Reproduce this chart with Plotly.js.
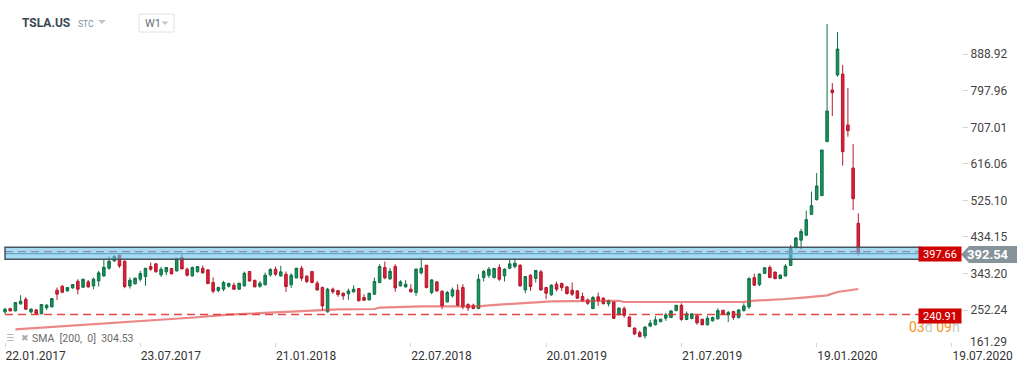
<!DOCTYPE html>
<html>
<head>
<meta charset="utf-8">
<script src="https://cdn.plot.ly/plotly-3.0.1.min.js"></script>
<style>
html,body{margin:0;padding:0;background:#fff;}
#chart{width:1029px;height:371px;}
</style>
</head>
<body>
<div id="chart"></div>
<script>
// ---- data (weekly TSLA.US candles) ----
const startWeek = '2017-01-22';
const openP = [247.6,255.7,250.0,267.5,279.0,247.6,252.5,242.6,257.5,260.0,
301.5,311.5,299.8,307.3,324.0,309.0,322.3,312.3,324.7,337.2,
356.3,374.5,388.7,373.7,312.3,317.3,328.9,335.5,360.4,367.1,
339.7,347.2,355.5,349.6,382.9,353.8,337.2,347.9,356.3,352.1,
320.6,300.7,304.0,311.5,314.0,304.0,312.3,348.0,326.4,311.5,
314.8,339.7,353.8,337.2,341.3,314.8,332.2,356.3,336.4,348.0,
318.9,308.1,247.6,304.0,300.7,294.0,292.4,297.4,305.6,283.3,
277.4,291.6,320.6,358.0,329.7,360.4,312.3,309.8,304.0,295.7,
344.7,363.8,295.7,322.3,299.0,272.5,287.4,301.5,308.1,265.8,
264.2,255.9,333.0,338.9,333.0,358.0,337.2,356.3,360.4,363.8,
302.3,338.9,330.6,347.2,308.1,289.9,316.4,318.1,309.8,301.5,
299.8,285.8,277.4,255.9,285.0,282.0,267.5,272.0,241.0,255.5,
235.0,207.3,196.0,187.6,212.2,215.5,222.9,231.9,233.6,250.8,
263.9,228.6,231.0,237.7,229.5,215.5,225.3,230.2,251.6,240.1,
248.3,233.6,250.8,259.8,332.9,315.6,343.5,358.3,346.8,330.4,
337.0,363.2,409.0,426.0,438.4,490.4,527.0,536.9,671.4,800.0,
837.4,839.8,712.9,605.8,468.0];
const highP = [257.5,257.5,271.8,289.1,284.0,256.7,254.0,266.6,267.5,282.0,
308.2,314.0,309.0,317.0,328.9,330.0,327.0,333.0,349.6,378.7,
385.3,388.7,390.3,375.4,333.0,333.0,349.6,356.3,370.4,369.0,
359.6,359.6,357.0,381.0,391.1,358.0,360.4,361.5,362.9,353.8,
333.0,310.6,324.7,320.6,320.6,320.0,348.0,349.6,327.0,324.7,
345.5,356.3,360.4,362.1,348.0,343.8,357.0,362.1,338.9,349.0,
324.7,310.6,307.3,308.1,301.0,295.7,305.6,313.9,306.0,291.6,
295.0,333.0,366.2,372.9,357.1,366.2,326.4,326.4,316.4,356.3,
382.9,364.0,328.9,323.0,301.5,299.8,308.1,316.4,316.4,269.1,
268.0,341.3,352.1,359.6,357.0,366.2,356.3,378.7,381.2,366.2,
337.2,341.3,352.1,352.1,309.8,316.4,323.1,320.6,312.3,320.6,
301.0,295.7,280.8,287.4,295.7,283.0,278.0,273.0,258.5,261.5,
236.0,208.5,200.7,212.2,227.8,236.8,230.0,245.0,251.5,265.0,
268.8,248.3,244.0,240.9,230.0,237.7,236.0,256.5,252.5,250.0,
250.0,254.0,268.8,333.7,342.7,343.5,358.0,363.2,347.5,340.0,
366.5,414.1,434.0,454.5,499.5,547.0,593.3,651.0,964.3,817.4,
944.4,862.3,805.0,665.5,493.0];
const lowP = [242.6,248.4,249.0,265.8,252.5,243.4,241.8,242.0,252.5,259.0,
277.4,294.0,298.0,305.0,291.6,307.0,308.0,304.0,310.6,334.7,
352.1,372.1,357.1,306.5,305.6,316.0,323.1,312.3,349.6,346.0,
334.7,338.9,341.0,348.0,353.8,335.5,335.5,345.0,343.0,316.4,
294.0,296.5,299.0,308.1,302.3,302.0,310.6,323.0,309.0,307.3,
314.0,335.5,337.2,335.5,297.4,307.3,331.0,324.7,319.0,319.0,
299.8,250.0,245.9,292.4,285.0,277.4,277.4,295.7,274.0,275.0,
276.0,289.9,319.0,328.9,327.2,297.4,310.6,308.1,295.7,287.4,
340.5,306.0,291.6,298.0,254.2,270.8,283.3,260.8,254.2,250.0,
254.2,254.2,323.1,332.2,331.0,324.7,323.1,353.8,356.3,310.6,
294.0,299.8,320.6,299.8,279.1,287.4,298.2,299.8,290.7,287.4,
280.0,272.5,265.0,254.2,262.5,266.0,261.0,230.0,238.0,233.5,
210.0,190.5,184.3,181.0,209.7,213.8,222.0,225.3,232.0,249.0,
225.3,227.0,229.0,215.5,214.0,213.8,223.5,228.6,240.0,222.1,
227.8,231.0,248.3,254.9,312.3,311.5,342.0,332.0,329.0,329.0,
335.3,361.6,405.0,403.0,438.0,489.0,525.0,536.0,671.0,735.3,
833.2,611.6,683.8,501.2,388.0];
const closeP = [254.2,250.0,270.8,274.1,254.2,254.2,243.4,265.8,264.2,280.8,
291.6,296.5,308.2,315.6,304.0,328.9,309.8,328.9,344.7,358.8,
373.7,385.3,362.1,310.6,326.4,331.4,343.0,356.3,353.8,347.2,
353.8,358.0,342.2,380.4,354.6,338.9,358.0,360.4,344.7,318.1,
299.0,308.1,320.6,318.1,304.0,319.0,343.8,324.7,309.8,318.9,
338.9,353.0,341.3,347.2,310.6,338.9,356.3,331.4,323.1,320.6,
302.3,262.5,304.0,297.4,290.7,287.4,299.8,304.0,275.0,276.6,
294.0,323.1,360.4,332.2,348.8,307.3,322.3,316.4,297.4,353.8,
356.3,308.1,327.2,299.8,262.5,295.7,302.3,264.2,260.0,257.5,
255.9,328.9,348.0,353.8,355.5,328.9,353.8,367.1,368.7,312.3,
335.5,310.6,350.5,302.3,294.0,314.0,304.0,308.1,293.2,291.6,
281.6,275.0,269.1,283.3,275.0,268.0,276.0,231.5,257.0,239.0,
211.0,192.5,185.9,209.7,219.6,227.8,229.5,240.1,250.0,263.9,
228.6,242.6,242.6,220.4,215.5,231.9,233.6,250.8,241.7,245.9,
233.6,252.4,262.3,330.4,314.0,341.9,357.5,332.9,330.4,339.4,
361.6,406.7,431.5,448.0,477.2,512.0,560.9,650.6,747.7,793.4,
902.1,646.4,698.7,529.4,392.54];

// SMA(200) read at selected weeks (week index, value)
const smaWeek  = [2, 18, 37, 43, 53, 64, 71, 72, 80, 91, 93, 101, 105, 114, 118, 119, 131, 142, 144, 148, 150, 154, 158, 160, 164];
const smaValue = [204.2, 217.6, 234.2, 240.9, 247.3, 254.0, 254.7, 258.0, 261.4, 261.4, 263.9, 270.4, 273.9, 275.0, 275.0, 272.2, 272.5, 272.2, 275.4, 277.1, 279.6, 283.9, 288.8, 297.1, 304.53];

const yTicks = [252.24, 343.20, 434.15, 525.10, 616.06, 707.01, 797.96, 888.92];
const yBottomLabel = 161.29;
const xTickDates = ['2017-01-22','2017-07-23','2018-01-21','2018-07-22','2019-01-20','2019-07-21','2020-01-19','2020-07-19'];
const xTickText  = ['22.01.2017','23.07.2017','21.01.2018','22.07.2018','20.01.2019','21.07.2019','19.01.2020','19.07.2020'];

const zoneLow = 378.5, zoneHigh = 408.4;
const resistLevel = 397.66;
const lastPrice = 392.54;
const supportLevel = 240.91;
const smaLabel = 'SMA  [200,  0]  304.53';

// ---- build ----
function weekDate(i){
  const d = new Date(startWeek + 'T00:00:00Z');
  d.setUTCDate(d.getUTCDate() + 7*i);
  return d.toISOString().slice(0,10);
}
const dates = openP.map((_, i) => weekDate(i));
const smaDates = smaWeek.map(weekDate);

const PW = 962, PH = 347;
const X = px => px / PW;
const Y = py => 1 - py / PH;

const candles = {
  type: 'candlestick',
  x: dates, open: openP, high: highP, low: lowP, close: closeP,
  increasing: {line: {color: '#0e7046', width: 1}, fillcolor: '#17935d'},
  decreasing: {line: {color: '#b3192c', width: 1}, fillcolor: '#de2039'},
  whiskerwidth: 0,
  hoverinfo: 'skip',
  showlegend: false
};
const sma = {
  type: 'scatter', mode: 'lines',
  x: smaDates, y: smaValue,
  line: {color: 'rgba(222,62,62,0.62)', width: 2.2},
  hoverinfo: 'skip', showlegend: false
};

const font = 'Roboto, "Open Sans", sans-serif';

const shapes = [
  // support dashed
  {type:'line', xref:'paper', yref:'y', x0:X(5), x1:X(919), y0:supportLevel, y1:supportLevel,
   line:{color:'rgba(226,40,40,0.85)', width:1.6, dash:'8px,5px'}, layer:'above'},
  // resistance dashed & last price line (under zone)
  {type:'line', xref:'paper', yref:'y', x0:X(5), x1:X(919), y0:resistLevel, y1:resistLevel,
   line:{color:'#c83c4a', width:1.4, dash:'8px,5px'}, layer:'above'},
  {type:'line', xref:'paper', yref:'y', x0:X(5), x1:X(919), y0:lastPrice, y1:lastPrice,
   line:{color:'#5d8299', width:1.2}, layer:'above'},
  // zone rectangle
  {type:'rect', xref:'paper', yref:'y', x0:X(5), x1:X(920), y0:zoneLow, y1:zoneHigh,
   fillcolor:'rgba(107,192,233,0.6)', line:{color:'#48555f', width:1.5}, layer:'above'},
  // grey price arrow label
  {type:'path', xref:'paper', yref:'paper',
   path:`M ${X(961)} ${Y(254.5)} L ${X(969)} ${Y(246)} L ${X(1017)} ${Y(246)} L ${X(1017)} ${Y(263)} L ${X(969)} ${Y(263)} Z`,
   fillcolor:'#87939a', line:{width:0}},
  // W1 box
  {type:'rect', xref:'paper', yref:'paper', x0:X(139), x1:X(174), y0:Y(32), y1:Y(14),
   fillcolor:'#fff', line:{color:'#e2e2e2', width:1}},
  // dropdown triangles
  {type:'path', xref:'paper', yref:'paper',
   path:`M ${X(98)} ${Y(20)} L ${X(106)} ${Y(20)} L ${X(102)} ${Y(24)} Z`, fillcolor:'#c4c4c4', line:{width:0}},
  {type:'path', xref:'paper', yref:'paper',
   path:`M ${X(161.5)} ${Y(21.5)} L ${X(168.5)} ${Y(21.5)} L ${X(165)} ${Y(25)} Z`, fillcolor:'#c4c4c4', line:{width:0}}
];

const annotations = [
  {xref:'paper', yref:'paper', x:X(20), y:Y(22.5), xanchor:'left', yanchor:'middle', showarrow:false,
   text:'<b>TSLA.US</b>', font:{family:font, size:12, color:'#3b4752'}},
  {xref:'paper', yref:'paper', x:X(75.5), y:Y(24), xanchor:'left', yanchor:'middle', showarrow:false,
   text:'STC', font:{family:font, size:8.5, color:'#7f8f9d'}},
  {xref:'paper', yref:'paper', x:X(142.5), y:Y(23.5), xanchor:'left', yanchor:'middle', showarrow:false,
   text:'W1', font:{family:font, size:11, color:'#676f76'}},
  // countdown (drawn before the 240.91 box so the box covers its top)
  {xref:'paper', yref:'paper', x:X(907), y:Y(326.5), xanchor:'left', yanchor:'middle', showarrow:false,
   text:'03<span style="color:#c9c9c9">d</span> 09<span style="color:#c9c9c9">h</span>', font:{family:font, size:14, color:'#f7941d'}},
  {xref:'paper', yref:'paper', x:X(940), y:Y(254), xanchor:'center', yanchor:'middle', showarrow:false,
   text:resistLevel.toFixed(2), width:42, height:14, bgcolor:'#d10000', borderpad:0,
   font:{family:font, size:11, color:'#ffffff'}},
  {xref:'paper', yref:'paper', x:X(940), y:Y(316), xanchor:'center', yanchor:'middle', showarrow:false,
   text:supportLevel.toFixed(2), width:42, height:14, bgcolor:'#d10000', borderpad:0,
   font:{family:font, size:11, color:'#ffffff'}},
  {xref:'paper', yref:'paper', x:X(988), y:Y(254.5), xanchor:'center', yanchor:'middle', showarrow:false,
   text:'<b>' + lastPrice.toFixed(2) + '</b>', font:{family:font, size:13, color:'#ffffff'}},
  {xref:'paper', yref:'paper', x:X(968), y:Y(341.7), xanchor:'left', yanchor:'middle', showarrow:false,
   text:yBottomLabel.toFixed(2), font:{family:font, size:12, color:'#444'}},
  // SMA legend
  {xref:'paper', yref:'paper', x:X(4), y:Y(337.5), xanchor:'left', yanchor:'middle', showarrow:false,
   text:'☰', font:{family:'DejaVu Sans', size:9, color:'#a9a9a9'}},
  {xref:'paper', yref:'paper', x:X(18.5), y:Y(337.5), xanchor:'left', yanchor:'middle', showarrow:false,
   text:'✖', font:{family:'DejaVu Sans', size:9, color:'#a9a9a9'}},
  {xref:'paper', yref:'paper', x:X(30), y:Y(338.3), xanchor:'left', yanchor:'middle', showarrow:false,
   text:smaLabel, font:{family:font, size:10.5, color:'#6b6b6b'}}
];

const layout = {
  width: 1029, height: 371,
  margin: {l:0, r:67, t:0, b:24, pad:0},
  paper_bgcolor: '#fff', plot_bgcolor: '#fff',
  showlegend: false,
  hovermode: false,
  xaxis: {
    type:'date', range:['2017-01-15 06:30','2020-08-01 12:00'],
    rangeslider:{visible:false},
    tickmode:'array', tickvals:xTickDates, ticktext:xTickText,
    ticklabelposition:'outside right',
    ticks:'inside', ticklen:4, tickcolor:'#d5d5d5', tickwidth:1,
    showgrid:false, zeroline:false, showline:false,
    tickfont:{family:font, size:12, color:'#333'}
  },
  yaxis: {
    side:'right', range:[160.11, 1024.1],
    tickmode:'array', tickvals:yTicks, ticktext:yTicks.map(v => v.toFixed(2)),
    ticks:'outside', ticklen:5, tickcolor:'#d5d5d5', tickwidth:1,
    showgrid:false, zeroline:false, showline:false,
    tickfont:{family:font, size:12, color:'#444'}
  },
  shapes: shapes,
  annotations: annotations
};

Plotly.newPlot('chart', [sma, candles], layout, {staticPlot:true, displayModeBar:false});
</script>
</body>
</html>
